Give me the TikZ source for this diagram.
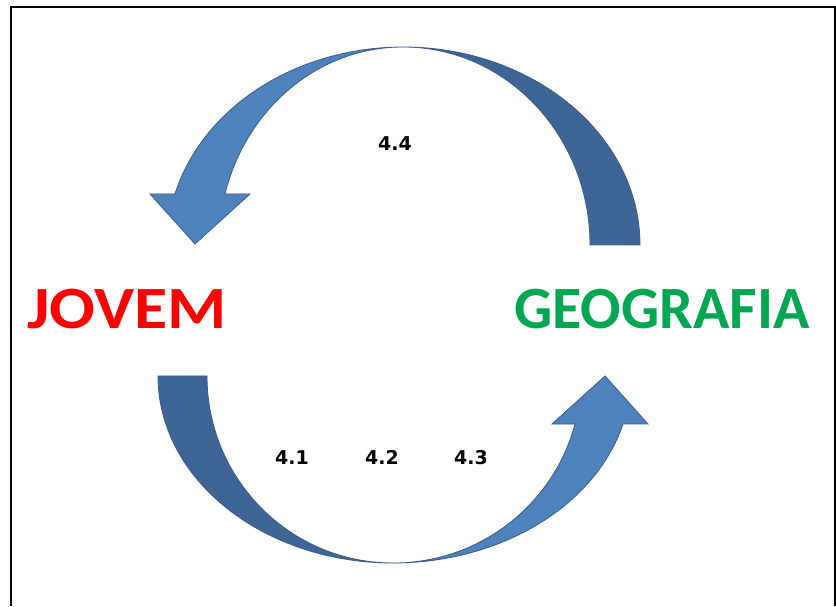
\documentclass[tikz,border=0pt]{standalone}
\usepackage{fontspec}
\setmainfont{Carlito}
\newfontfamily\labelfont{DejaVu Sans}
\usepackage{xcolor}
\usepackage{tikz}

\definecolor{arrowfront}{RGB}{79,129,189}
\definecolor{arrowback}{RGB}{62,101,150}
\definecolor{arrowline}{RGB}{56,93,138}
\definecolor{jovemred}{RGB}{255,0,0}
\definecolor{geogreen}{RGB}{0,166,81}

\tikzset{
    front/.style={fill=arrowfront, draw=arrowline, line width=0.8pt},
    back/.style={fill=arrowback, draw=arrowline, line width=0.8pt},
    title/.style={font=\fontsize{60}{60}\selectfont\bfseries, inner sep=0pt, transform shape},
    numlabel/.style={font=\labelfont\fontsize{19}{19}\selectfont\bfseries, inner sep=0pt,
        text height=14pt, text depth=0pt}
}

\begin{document}
\begin{tikzpicture}[x=1pt, y=1pt]
    \useasboundingbox (0,0) rectangle (836,606);
    \draw[line width=2pt] (11,0) -- (11,599) -- (835,599) -- (835,0);

    % upper arrow: geografia back to jovem
    \draw[back] (403,559) arc[start angle=90, end angle=0, x radius=237, y radius=198]
        -- (590,361) arc[start angle=0, end angle=90, x radius=187, y radius=198] -- cycle;
    \draw[front] (403,559) arc[start angle=90, end angle=165.07, x radius=236, y radius=198]
        -- (150,412) -- (195,362) -- (250,412) -- (225,412)
        arc[start angle=165.07, end angle=90, x radius=184, y radius=198] -- cycle;

    % lower arrow: jovem to geografia
    \draw[back] (158,230) arc[start angle=180, end angle=270, x radius=235, y radius=187]
        arc[start angle=270, end angle=180, x radius=186, y radius=187] -- cycle;
    \draw[front] (393,43) arc[start angle=270, end angle=345.13, x radius=238, y radius=187]
        -- (648,182) -- (605,230) -- (552,182) -- (575,182)
        arc[start angle=345.13, end angle=270, x radius=188, y radius=187] -- cycle;

    \node[title, text=jovemred, xscale=1.13] (jovem) at (127,297) {JOVEM};
    \node[title, text=geogreen] (geografia) at (662,297) {GEOGRAFIA};

    \node[numlabel] (n41) at (292,149) {4.1};
    \node[numlabel] (n42) at (382,149) {4.2};
    \node[numlabel] (n43) at (471,149) {4.3};
    \node[numlabel] (n44) at (395,462) {4.4};
\end{tikzpicture}
\end{document}
